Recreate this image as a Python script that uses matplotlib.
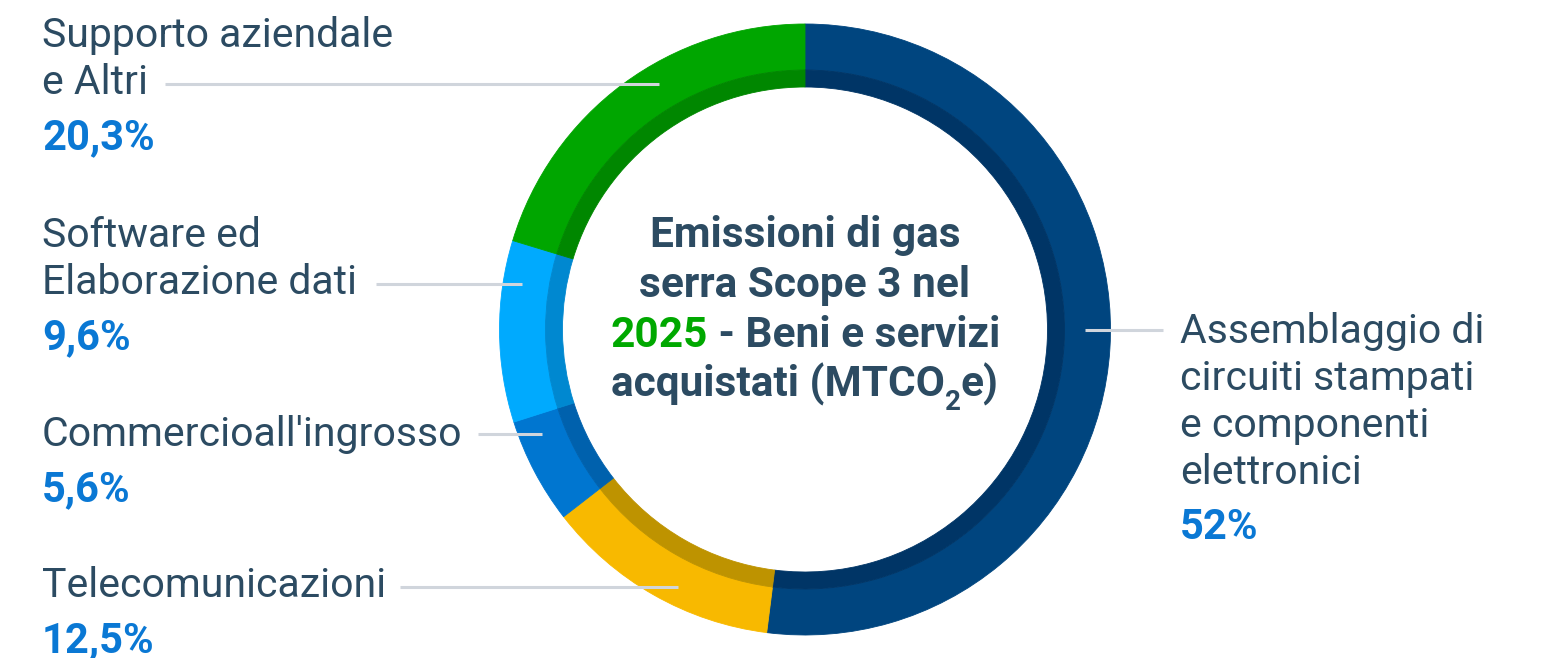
import matplotlib
matplotlib.use("Agg")
import matplotlib.pyplot as plt

# data
categories = ["Assemblaggio di\ncircuiti stampati\ne componenti\nelettronici",
              "Telecomunicazioni",
              "Commercioall'ingrosso",
              "Software ed\nElaborazione dati",
              "Supporto aziendale\ne Altri"]
values = [52, 12.5, 5.6, 9.6, 20.3]
pct_labels = ["52%", "12,5%", "5,6%", "9,6%", "20,3%"]
outer_colors = ["#00457F", "#F8B900", "#0076D0", "#00AAFE", "#00A600"]
inner_colors = ["#003566", "#BE9300", "#0061AD", "#0088D0", "#008700"]

W, H = 1547, 658
TXT = "#2C4B62"
PCT = "#0A78D4"
LINE = "#D0D5DC"
plt.rcParams["font.family"] = ["Roboto", "DejaVu Sans"]

fig = plt.figure(figsize=(W / 100, H / 100), dpi=100)
ax = fig.add_axes([0, 0, 1, 1])

def Y(y):
    return H - y

cx, cy = 805, Y(329.5)
R, band_r, hole_r = 305.5, 259.5, 242.5

outer, _ = ax.pie(values, colors=outer_colors, startangle=90, counterclock=False,
                  radius=R, center=(cx, cy), wedgeprops=dict(width=R - band_r))
inner, _ = ax.pie(values, colors=inner_colors, startangle=90, counterclock=False,
                  radius=band_r, center=(cx, cy),
                  wedgeprops=dict(width=band_r - hole_r))
for w in list(outer) + list(inner):
    w.set_edgecolor(w.get_facecolor())
    w.set_linewidth(0.6)

ax.set_xlim(0, W)
ax.set_ylim(0, H)
ax.set_aspect("auto")
ax.axis("off")

# labels: (x, first baseline, line x0, line x1, line y)
layout = [
    (1180, 343, 1085, 1163, 330),
    (42, 597, 400, 678, 587),
    (42, 446, 478, 542, 434),
    (42, 247, 376, 522, 284),
    (42, 47, 165, 659, 84),
]
lh = 47
fs = 29.5
pfs = 30
for cat, pct, (lx, by, x0, x1, ly) in zip(categories, pct_labels, layout):
    lines = cat.split("\n")
    for i, t in enumerate(lines):
        ax.text(lx, Y(by + i * lh), t, fontsize=fs, color=TXT,
                ha="left", va="baseline")
    last = by + (len(lines) - 1) * lh
    ax.text(lx, Y(last + 55), pct, fontsize=pfs, fontweight="bold", color=PCT,
            ha="left", va="baseline")
    ax.plot([x0, x1], [Y(ly), Y(ly)], color=LINE, lw=2.2, solid_capstyle="butt")

# centre title, built from segments so each line stays centred
fig.canvas.draw()
renderer = fig.canvas.get_renderer()
tfs = 30.5
title_lines = [
    [("Emissioni di gas", TXT, tfs, 0)],
    [("serra Scope 3 nel", TXT, tfs, 0)],
    [("2025", "#00A800", tfs, 0), (" - Beni e servizi", TXT, tfs, 0)],
    [("acquistati (MTCO", TXT, tfs, 0), ("2", TXT, 20, -13), ("e)", TXT, tfs, 0)],
]
for i, segs in enumerate(title_lines):
    base = 247 + i * 50
    objs = []
    for s, c, size, dy in segs:
        t = ax.text(0, Y(base - dy), s, fontsize=size, fontweight="bold",
                    color=c, ha="left", va="baseline")
        objs.append(t)
    widths = [o.get_window_extent(renderer).width for o in objs]
    x = cx - sum(widths) / 2
    for o, w in zip(objs, widths):
        o.set_x(x)
        x += w

fig.savefig("out.png", dpi=100, facecolor="white")
